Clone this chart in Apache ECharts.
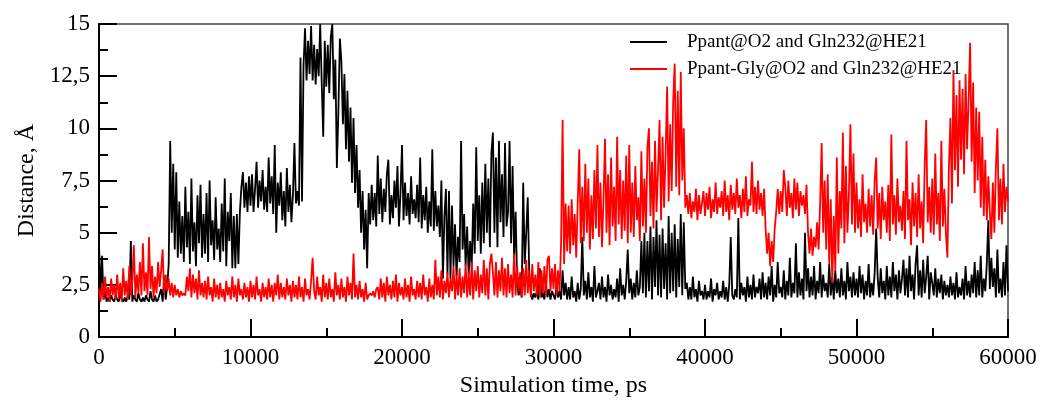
<!DOCTYPE html>
<html>
<head>
<meta charset="utf-8">
<script src="https://cdn.jsdelivr.net/npm/echarts@6/dist/echarts.min.js"></script>
<style>
html,body{margin:0;padding:0;background:#fff;}
#chart{width:1045px;height:403px;}
</style>
</head>
<body>
<div id="chart"></div>
<script>
// Sampling step of the traces (ps)
const stepPs = 100;
const seriesNames = ['Ppant@O2 and Gln232@HE21', 'Ppant-Gly@O2 and Gln232@HE21'];
const yTicks = [0, 2.5, 5, 7.5, 10, 12.5, 15];
const xTicks = [0, 10000, 20000, 30000, 40000, 50000, 60000];

// Ppant@O2 – Gln232@HE21 distance (Å), every 100 ps from 0 to 60000
const black = [
4.5,2.0,3.9,1.8,2.2,1.7,1.9,1.7,2.0,1.8,
1.7,2.0,1.8,1.7,2.1,1.8,1.7,1.9,1.7,2.0,
1.8,4.6,1.7,2.0,1.8,1.7,2.1,1.8,1.7,1.9,
1.7,2.0,1.8,1.7,2.2,1.8,1.7,2.0,1.7,1.8,
1.8,2.3,1.7,2.9,1.8,2.4,3.5,9.4,5.0,8.3,
4.2,7.9,3.8,6.5,4.0,5.8,3.6,7.2,4.3,6.0,
3.5,7.6,4.1,5.5,3.4,6.8,4.5,7.3,3.8,5.9,
4.0,6.9,3.6,7.5,4.4,5.6,3.7,6.7,4.2,5.2,
3.6,6.4,4.1,7.6,3.4,6.0,4.6,6.9,3.3,5.8,
3.3,5.9,3.5,6.0,7.2,7.9,6.2,7.4,6.0,7.7,
6.3,7.8,6.0,7.1,8.4,6.2,7.5,6.5,8.0,6.1,
7.2,6.0,8.6,6.4,7.7,5.9,9.2,5.0,7.4,6.3,
7.9,5.6,7.0,5.3,8.1,6.0,7.3,5.5,6.8,9.3,
6.4,7.0,6.3,13.4,6.5,13.0,14.8,12.3,14.2,12.6,
14.9,12.3,14.0,12.1,13.8,12.5,15.0,12.2,9.6,14.2,
12.0,14.0,11.7,14.4,15.0,11.4,13.3,8.1,10.8,14.3,
13.2,10.2,12.6,9.0,11.8,8.4,11.0,7.4,10.5,6.9,
9.2,6.2,8.0,5.0,7.0,4.2,6.1,3.3,6.9,5.4,
7.3,5.6,6.9,5.3,8.7,5.9,7.6,5.5,7.1,6.0,
7.8,8.5,5.4,6.8,5.7,7.5,6.2,8.2,5.3,6.9,
9.2,5.6,7.4,5.8,6.9,5.4,7.7,5.9,6.6,5.7,
7.3,5.5,8.6,5.2,6.8,5.6,7.2,5.0,6.5,5.3,
9.0,5.1,7.0,5.3,6.3,4.8,7.5,2.8,5.8,7.1,
3.0,7.0,2.8,6.3,3.4,5.4,2.9,4.8,3.6,9.4,
4.2,5.9,3.4,5.3,3.0,4.6,3.3,6.4,4.0,9.1,
4.6,6.8,4.0,7.4,4.5,8.3,5.0,7.6,4.3,8.8,
9.8,5.0,8.6,4.3,9.4,5.5,7.8,4.8,9.3,5.3,
6.0,9.4,4.5,8.2,3.8,6.0,2.6,2.0,2.4,1.9,
7.4,3.5,5.0,6.7,3.0,2.2,1.8,2.1,1.9,2.2,
1.8,3.3,1.9,2.1,1.8,2.6,1.9,2.3,1.8,2.2,
2.0,1.8,2.5,1.9,2.2,1.8,3.2,2.0,2.6,1.8,
2.4,1.8,2.9,1.9,2.2,1.7,2.6,1.8,2.3,4.8,
2.0,2.7,1.8,3.1,1.9,2.4,1.7,3.4,1.9,2.2,
2.6,1.8,2.9,1.9,2.4,1.7,3.0,2.0,2.5,1.8,
2.3,1.9,2.8,1.7,3.3,2.0,2.5,1.8,2.7,4.2,
2.1,2.8,1.8,2.6,1.9,3.2,2.0,2.4,4.6,2.1,
5.0,1.9,4.6,2.2,5.3,1.8,4.8,2.4,5.6,2.0,
4.9,1.9,5.2,2.3,4.5,1.8,5.8,2.1,5.0,2.2,
5.4,1.9,4.7,2.4,5.9,2.0,5.5,2.3,2.6,1.8,
2.4,1.8,2.9,1.9,2.3,1.7,2.7,2.0,2.2,1.8,
2.5,1.8,2.2,1.9,2.8,1.7,2.3,2.0,2.6,1.8,
2.2,1.9,2.7,1.8,2.4,1.7,2.5,4.8,2.0,1.8,
2.3,1.9,5.7,1.8,2.6,2.0,2.4,1.7,2.9,1.9,
2.5,1.8,3.0,1.9,2.4,2.1,2.8,1.8,3.1,1.9,
2.6,1.8,2.9,2.0,3.4,1.7,2.5,1.9,3.6,2.1,
2.4,1.9,3.2,1.8,2.7,2.0,3.8,1.9,2.6,2.1,
4.5,1.9,3.1,2.0,2.8,1.8,5.0,2.2,3.3,1.9,
2.9,2.0,3.4,1.8,2.7,2.1,3.6,1.9,3.0,2.2,
2.6,1.9,3.5,2.0,2.9,1.8,3.2,2.1,2.8,1.9,
3.3,2.0,2.7,1.8,3.6,2.2,2.9,1.9,3.1,2.0,
2.8,1.9,3.4,2.1,3.0,1.8,2.7,2.0,3.5,1.9,
2.6,2.0,3.1,5.2,2.8,1.9,3.3,2.1,2.7,1.8,
3.4,2.0,2.9,1.9,3.6,2.2,3.0,1.8,3.2,2.1,
2.8,3.7,2.0,3.3,1.9,3.9,2.2,3.0,1.8,3.5,
4.4,2.0,3.2,1.9,3.7,2.1,2.9,3.9,1.8,3.1,
2.6,2.0,3.3,1.9,2.8,2.1,3.0,1.8,2.7,2.0,
2.5,1.9,2.9,2.0,2.6,1.8,3.1,1.9,2.4,2.0,
2.8,1.8,3.4,2.0,2.7,1.9,3.0,2.1,3.6,1.9,
3.2,2.0,3.9,1.9,2.8,2.2,3.5,5.6,2.3,3.8,
2.4,3.3,1.9,4.2,2.1,2.8,1.9,3.6,2.0,4.4,
2.2
];

// Ppant-Gly@O2 – Gln232@HE21 distance (Å), every 100 ps from 0 to 60000
const red = [
2.3,1.7,2.6,1.8,2.9,1.9,2.4,1.7,2.8,2.0,
2.5,1.8,3.0,1.9,2.6,1.7,3.3,2.0,2.7,1.8,
3.4,2.0,2.7,4.4,1.9,3.0,2.1,3.6,2.0,4.5,
2.2,3.1,2.0,4.8,2.3,3.4,1.9,2.9,2.1,3.6,
2.4,3.2,4.2,2.1,3.0,2.2,2.8,2.0,2.6,1.9,
2.5,2.0,2.3,1.9,2.2,2.0,2.1,2.0,2.9,2.2,
3.3,1.9,3.0,2.1,2.8,1.8,3.2,2.0,2.6,1.9,
2.7,1.8,2.9,2.0,2.4,1.7,2.8,1.9,2.5,1.8,
2.6,1.9,2.3,1.7,2.7,2.0,2.4,1.8,2.9,1.9,
2.5,1.7,2.8,2.0,2.3,1.8,2.6,1.9,2.4,1.7,
2.7,1.9,2.5,1.8,2.9,2.0,2.3,1.7,2.6,1.9,
2.4,1.8,2.8,1.9,2.5,1.7,2.6,2.0,3.0,1.8,
2.6,1.9,2.4,1.8,2.8,2.0,2.5,1.7,2.7,1.9,
2.5,1.8,2.9,1.9,2.4,1.7,2.8,2.0,2.3,1.8,
2.7,3.8,2.2,1.8,2.9,2.0,2.4,1.7,3.0,1.9,
2.6,1.8,2.8,1.9,2.3,1.7,3.1,2.0,2.5,1.8,
2.8,1.9,2.4,1.7,2.9,2.0,2.6,1.8,4.0,1.9,
2.5,1.8,2.7,1.9,2.3,1.7,2.6,1.8,2.0,2.1,
2.0,2.2,1.9,2.3,2.4,1.8,2.8,1.9,2.6,1.7,
2.9,2.0,2.5,1.8,2.7,1.9,3.0,1.7,2.6,2.0,
2.4,1.8,2.8,1.9,2.5,1.7,2.9,2.0,2.3,1.8,
2.7,1.9,2.6,1.8,3.0,2.0,2.4,1.7,2.8,1.9,
2.5,1.8,3.7,2.0,2.9,1.9,3.2,1.8,2.7,2.1,
3.1,1.9,2.8,2.2,3.4,1.8,3.0,2.0,3.3,1.9,
2.9,2.1,3.5,1.9,3.1,2.0,3.6,1.8,3.2,2.2,
3.4,1.9,3.0,2.1,3.7,2.0,3.3,1.8,3.5,4.0,
3.1,2.0,3.6,1.9,3.2,2.2,3.8,2.0,3.3,1.9,
3.5,2.1,3.0,1.9,4.0,2.0,3.4,2.2,3.1,1.9,
3.3,2.0,3.7,2.1,3.2,1.9,3.5,2.2,3.0,2.0,
3.6,1.9,3.2,2.1,3.4,2.0,3.7,3.9,2.2,3.3,
2.3,3.5,2.0,3.2,2.2,4.5,10.4,3.5,6.4,4.1,
6.3,4.0,6.6,4.4,5.9,3.8,6.5,9.0,4.5,7.2,
4.6,8.3,5.0,7.6,4.2,6.8,4.7,8.0,5.2,9.2,
4.8,7.4,4.3,6.6,9.5,5.0,7.8,4.4,8.6,5.3,
7.2,4.6,9.6,5.4,8.0,4.7,7.5,5.1,8.7,4.5,
9.2,5.0,7.4,4.8,8.2,5.6,6.7,4.6,8.9,5.3,
7.6,5.0,9.1,10.0,5.8,8.4,5.2,9.4,6.0,8.0,
10.4,5.6,9.6,6.2,8.8,12.0,6.5,10.2,7.0,11.3,
13.1,7.2,11.8,6.8,12.7,7.5,10.0,6.2,6.8,5.9,
6.9,5.7,6.5,6.0,7.1,5.6,6.8,5.9,6.4,7.0,
5.8,6.9,6.1,7.2,5.7,6.6,6.0,7.4,5.9,6.7,
6.2,7.0,5.8,7.5,6.0,6.8,5.6,7.3,6.1,6.9,
5.9,7.6,6.2,6.8,5.7,7.1,6.0,7.7,5.8,6.6,
6.3,8.4,6.0,7.2,5.9,7.5,6.1,6.9,5.8,7.1,
5.2,4.0,5.0,3.4,4.6,3.6,5.2,6.0,7.1,5.9,
7.0,6.0,8.0,7.2,5.8,7.5,6.2,6.9,5.7,7.6,
6.1,7.4,5.8,7.0,6.3,6.8,5.9,7.3,5.0,4.0,
5.2,3.9,4.8,4.3,5.5,4.2,6.4,9.3,5.0,7.5,
4.2,7.8,3.5,6.6,2.6,5.8,3.2,8.6,4.0,7.0,
5.2,9.8,4.5,8.2,5.0,6.9,10.2,5.4,8.8,5.0,
7.4,5.2,6.6,4.8,7.8,5.5,6.4,5.0,7.1,5.3,
6.8,4.9,7.5,8.6,5.2,6.9,4.7,7.2,5.6,6.5,
5.0,7.3,4.6,9.7,5.4,6.8,4.9,7.6,5.5,6.3,
5.1,7.0,4.7,9.4,5.6,6.6,4.4,7.4,5.3,6.9,
4.8,7.8,5.2,6.5,4.5,8.2,10.4,5.5,7.2,5.0,
7.6,4.9,8.8,5.4,6.9,4.6,9.4,5.3,7.1,5.0,
3.8,8.2,10.5,6.4,12.8,8.0,11.6,7.2,12.3,8.5,
11.9,7.8,12.6,9.0,11.4,14.1,8.4,12.2,6.9,11.0,
7.5,10.8,6.2,9.6,5.8,8.5,5.6,7.7,6.0,4.7,
7.4,5.0,8.1,10.0,5.6,7.6,5.4,8.3,6.0,7.2,
6.5
];

const toPairs = arr => arr.map((v, i) => [i * stepPs, v]);
const serif = '"Liberation Serif", "DejaVu Serif", serif';

const chart = echarts.init(document.getElementById('chart'), null, {renderer: 'canvas'});
chart.setOption({
  animation: false,
  backgroundColor: '#fff',
  grid: {left: 99, right: 37, top: 24, bottom: 60, show: true, borderColor: '#444', borderWidth: 1.5, backgroundColor: 'transparent'},
  legend: {
    orient: 'vertical', left: 630, top: 32, itemWidth: 37, itemHeight: 2, itemGap: 7, padding: 0,
    icon: 'rect',
    textStyle: {fontFamily: serif, fontSize: 19, color: '#000', padding: [0, 0, 0, 15], lineHeight: 20},
    data: seriesNames
  },
  xAxis: {
    type: 'value', min: xTicks[0], max: xTicks[xTicks.length - 1], interval: 10000,
    name: 'Simulation time, ps', nameLocation: 'middle', nameGap: 32,
    nameTextStyle: {fontFamily: serif, fontSize: 24, color: '#000'},
    axisLine: {lineStyle: {color: '#000', width: 2}},
    axisTick: {inside: true, length: 18, lineStyle: {color: '#000', width: 2}},
    minorTick: {show: true, splitNumber: 2, length: 9, lineStyle: {color: '#000', width: 2}},
    axisLabel: {fontFamily: serif, fontSize: 23, color: '#000', margin: 9,
      formatter: v => String(v)},
    splitLine: {show: false}
  },
  yAxis: {
    type: 'value', min: yTicks[0], max: yTicks[yTicks.length - 1], interval: 2.5,
    name: 'Distance, Å', nameLocation: 'middle', nameGap: 58,
    nameTextStyle: {fontFamily: serif, fontSize: 24, color: '#000'},
    axisLine: {lineStyle: {color: '#000', width: 2}},
    axisTick: {inside: true, length: 18, lineStyle: {color: '#000', width: 2}},
    minorTick: {show: true, splitNumber: 2, length: 9, lineStyle: {color: '#000', width: 2}},
    axisLabel: {fontFamily: serif, fontSize: 23, color: '#000', margin: 9,
      formatter: v => String(v).replace('.', ',')},
    splitLine: {show: false}
  },
  series: [
    {name: seriesNames[0], type: 'line', data: toPairs(black), showSymbol: false, symbol: 'none',
     color: '#000', lineStyle: {color: '#000', width: 1.8}, z: 2},
    {name: seriesNames[1], type: 'line', data: toPairs(red), showSymbol: false, symbol: 'none',
     color: '#ff0000', lineStyle: {color: '#ff0000', width: 1.8}, z: 3}
  ]
});
</script>
</body>
</html>
